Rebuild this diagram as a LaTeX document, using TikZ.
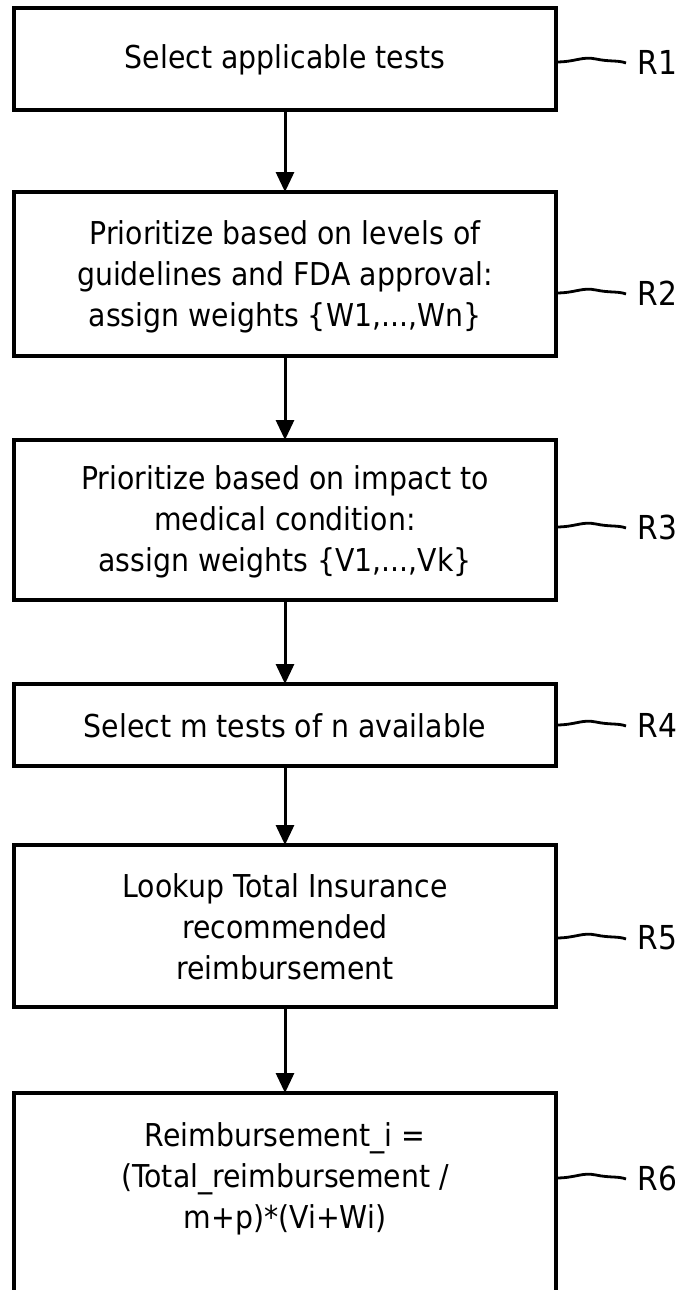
\documentclass[tikz,border=0pt]{standalone}
\usepackage{fontspec}
\setmainfont[FakeStretch=0.9]{DejaVu Sans}
\usetikzlibrary{arrows.meta}
\begin{document}
\begin{tikzpicture}[x=1pt,y=-1pt,
  box/.style={draw,line width=3.5pt,inner sep=0pt},
  txt/.style={align=center,font=\fontsize{31.5}{41}\selectfont},
  lbl/.style={anchor=west,font=\fontsize{33}{36}\selectfont},
  flow/.style={line width=3pt,-{Triangle[length=20pt,width=18pt]}},
  wave/.style={line width=2.8pt}]
\useasboundingbox (0,0) rectangle (693,1290);
% boxes
\draw[box] (14,8) rectangle (556,110);
\node[txt] (t1) at (285,60) {Select applicable tests};
\draw[box] (14,192) rectangle (556,356);
\node[txt] (t2) at (285,277) {Prioritize based on levels of\\guidelines and FDA approval:\\assign weights \{W1,...,Wn\}};
\draw[box] (14,440) rectangle (556,600);
\node[txt] (t3) at (285,522) {Prioritize based on impact to\\medical condition:\\assign weights \{V1,...,Vk\}};
\draw[box] (14,684) rectangle (556,766);
\node[txt] (t4) at (285,726) {Select m tests of n available};
\draw[box] (14,845) rectangle (556,1007);
\node[txt] (t5) at (285,927) {Lookup Total Insurance\\recommended\\reimbursement};
\draw[box] (14,1300) -- (14,1093) -- (556,1093) -- (556,1300);
\node[txt] (t6) at (285,1179) {Reimbursement\_i =\\(Total\_reimbursement /\\m+p)*(Vi+Wi)};
% arrows
\coordinate (a1) at (285,110); \coordinate (b1) at (285,192);
\coordinate (a2) at (285,356); \coordinate (b2) at (285,440);
\coordinate (a3) at (285,600); \coordinate (b3) at (285,684);
\coordinate (a4) at (285,766); \coordinate (b4) at (285,845);
\coordinate (a5) at (285,1007); \coordinate (b5) at (285,1093);
\foreach \i in {1,...,5} {\draw[flow] (a\i) -- (b\i);}
% labels
\foreach \n/\y in {1/62,2/293,3/527,4/725,5/938,6/1178} {
  \coordinate (w\n) at (556,\y);
  \draw[wave] (w\n) .. controls +(20,0) and +(-14,-3) .. +(40,-3) .. controls +(14,3) and +(-8,-3) .. +(70,1);
  \node[lbl] (r\n) at (634,\y) {R\n};
}
\end{tikzpicture}
\end{document}
